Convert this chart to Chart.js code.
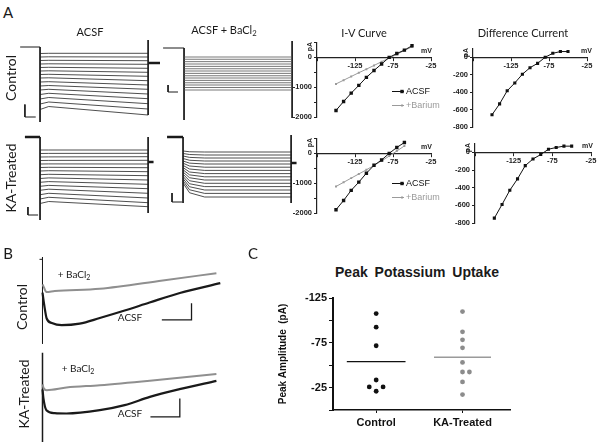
<!DOCTYPE html>
<html lang="en">
<head>
<meta charset="UTF-8">
<meta name="viewport" content="width=device-width, initial-scale=1.0">
<title>Kir currents and potassium uptake</title>
<script src="https://cdn.jsdelivr.net/npm/chart.js"></script>
<style>
  body { margin: 0; background: #fff; }
  #fig { position: relative; width: 600px; height: 444px; overflow: hidden; font-family: Lato, "Open Sans", sans-serif; color: #1a1a1a; }
  #fig canvas { position: absolute; }
  .t { position: absolute; transform: translate(-50%, -50%); white-space: nowrap; line-height: 1; }
  .rot { transform: translate(-50%, -50%) rotate(-90deg); }
  .sub { font-size: 70%; vertical-align: -0.3em; }
  .ttl { font-size: 11px; }
  .big { font-size: 15px; }
  .row { font-size: 14px; }
  .lab { font-size: 10px; }
</style>
</head>
<body>
<div id="fig">
  <!-- panel A traces -->
  <canvas id="aCtlAcsf" width="147" height="90" style="left:18px;top:37px"></canvas>
  <canvas id="aCtlBa" width="147" height="90" style="left:162px;top:38px"></canvas>
  <canvas id="aKaAcsf" width="147" height="100" style="left:18px;top:127px"></canvas>
  <canvas id="aKaBa" width="147" height="100" style="left:161px;top:127px"></canvas>
  <!-- I-V and difference current -->
  <canvas id="ivCtl" width="160" height="90" style="left:285px;top:36px"></canvas>
  <canvas id="ivKa" width="160" height="90" style="left:285px;top:132px"></canvas>
  <canvas id="diffCtl" width="159" height="94" style="left:441px;top:42px"></canvas>
  <canvas id="diffKa" width="157" height="95" style="left:443px;top:137px"></canvas>
  <!-- panel B -->
  <canvas id="bCtl" width="185" height="96" style="left:38px;top:250px"></canvas>
  <canvas id="bKa" width="185" height="94" style="left:38px;top:349px"></canvas>
  <!-- panel C -->
  <canvas id="peak" width="262" height="150" style="left:268px;top:288px"></canvas>

  <div class="t big" style="left:8px;top:12px">A</div>
  <div class="t ttl" style="left:90px;top:31px">ACSF</div>
  <div class="t ttl" style="left:224px;top:31px">ACSF + BaCl<span class="sub">2</span></div>
  <div class="t ttl" style="left:364px;top:32px">I-V Curve</div>
  <div class="t ttl" style="left:523px;top:32px">Difference Current</div>
  <div class="t row rot" style="left:11px;top:78px">Control</div>
  <div class="t row rot" style="left:11px;top:178px">KA-Treated</div>

  <div class="t big" style="left:8px;top:253px">B</div>
  <div class="t big" style="left:253px;top:253px">C</div>
  <div class="t row rot" style="left:22px;top:307px">Control</div>
  <div class="t row rot" style="left:24px;top:394px">KA-Treated</div>
  <div class="t lab" style="left:74px;top:275px">+ BaCl<span class="sub">2</span></div>
  <div class="t lab" style="left:130px;top:317px">ACSF</div>
  <div class="t lab" style="left:78px;top:369px">+ BaCl<span class="sub">2</span></div>
  <div class="t lab" style="left:130px;top:413px">ACSF</div>

  <div class="t" style="left:417px;top:272px;font:bold 14px 'Liberation Sans', Arial, sans-serif;word-spacing:3px">Peak Potassium Uptake</div>
</div>

<script>
  // ---- Panel A: voltage-step current families (ms, pA) ----
  const stepTimes = [0, 40, 500];
  const ctlAcsfOnset = [-260, -400, -540, -680, -820, -960, -1100, -1240, -1400, -1560, -1720, -1900, -2080, -2280, -2500];
  const ctlAcsf40 = [-252, -392, -532, -672, -812, -952, -1092, -1232, -1388, -1540, -1692, -1852, -2020, -2200, -2380];
  const ctlAcsfEnd = [-252, -400, -548, -692, -852, -1012, -1172, -1348, -1520, -1692, -1880, -2068, -2268, -2480, -2720];
  const ctlBaLevel = [-360, -450, -545, -640, -735, -830, -920, -1015, -1110, -1200, -1295, -1390, -1480, -1580, -1680];
  const kaAcsfOnset = [-520, -660, -800, -940, -1080, -1220, -1360, -1508, -1660, -1812, -1972, -2132, -2308, -2480, -2660];
  const kaAcsf40 = [-520, -656, -796, -936, -1076, -1212, -1348, -1492, -1636, -1784, -1936, -2088, -2252, -2412, -2580];
  const kaAcsfEnd = [-520, -652, -788, -932, -1080, -1228, -1388, -1548, -1720, -1892, -2068, -2252, -2440, -2628, -2788];
  const kaBaTimes = [0, 30, 100, 500];
  const kaBaOnset = [-560, -660, -760, -860, -960, -1048, -1136, -1224, -1312, -1400, -1488, -1576, -1664, -1752, -1840];
  const kaBa30 = [-590, -700, -815, -930, -1045, -1160, -1280, -1400, -1515, -1630, -1750, -1870, -1990, -2110, -2230];
  const kaBaEnd = [-600, -720, -840, -960, -1080, -1208, -1336, -1464, -1592, -1720, -1852, -1984, -2120, -2256, -2400];

  // holding level, transients, tail marks and scale bars ([ms, pA] pairs)
  const ctlAcsfMarks = [[[-92, 0], [0, 0]], [[0, 0], [0, -3000]], [[500, 280], [500, -2720]]];
  const ctlAcsfTail = [[500, -640], [555, -640]];
  const ctlAcsfBar = [[-70, -2300], [-70, -2800], [-20, -2800]];
  const ctlBaMarks = [[[-97, 0], [0, 0]], [[0, 0], [0, -2880]], [[500, 280], [500, -2800]]];
  const ctlBaBar = [[-74, -1480], [-74, -1760], [-28, -1760]];
  const kaAcsfMarks = [[[0, 0], [0, -3320]], [[500, 0], [500, -3040]]];
  const kaAcsfHold = [[-70, 0], [0, 0]];
  const kaAcsfTail = [[500, -1000], [525, -1000]];
  const kaAcsfBar = [[-56, -2800], [-56, -3120], [-9, -3120]];
  const kaBaMarks = [[[0, 0], [0, -2640]], [[500, 80], [500, -2640]]];
  const kaBaHold = [[-74, 0], [0, 0]];
  const kaBaTail = [[500, -1040], [525, -1040]];
  const kaBaBar = [[-51, -2240], [-51, -2600], [-5, -2600]];

  // ---- I-V curves and difference current (mV, pA) ----
  const ivVoltsCtl = [-150, -140, -130, -120, -110, -100, -90, -80, -70, -60, -50];
  const ivCtlAcsf = [-1780, -1480, -1200, -940, -670, -440, -220, 0, 130, 245, 390];
  const ivCtlBa = [-890, -765, -640, -515, -395, -270, -145, -20, 105, 230, 355];
  const ivVoltsKa = [-150, -140, -130, -120, -110, -100, -90, -80, -70, -60];
  const ivKaAcsf = [-1890, -1580, -1240, -965, -665, -400, -220, 0, 200, 365];
  const ivKaBa = [-1110, -970, -830, -690, -550, -405, -250, -90, 80, 250];
  const diffVolts = [-150, -140, -130, -120, -110, -100, -90, -80, -70, -60, -50];
  const diffCtl = [-660, -535, -385, -295, -195, -120, -70, 0, 45, 65, 65];
  const diffKa = [-745, -590, -430, -300, -150, -75, -25, 35, 55, 70, 70];
  const voltTicks = [-175, -125, -75, -25];
  const ivCurrentTicks = [-2000, -1500, -1000, -500, 0, 500];
  const diffCurrentTicks = [-800, -600, -400, -200, 0];

  // ---- Panel B: single traces (ms, pA) ----
  const bCtlAcsfT = [0, 6, 14, 31, 64, 124, 191, 274, 357, 458, 593];
  const bCtlAcsfI = [-200, -277, -355, -382, -395, -386, -352, -307, -259, -202, -143];
  const bCtlBaT = [0, 4, 13, 41, 191, 401, 580];
  const bCtlBaI = [-150, -165, -196, -190, -177, -127, -83];
  const bKaAcsfT = [0, 3, 13, 41, 80, 191, 274, 358, 457, 580];
  const bKaAcsfI = [-200, -253, -325, -343, -345, -325, -295, -245, -199, -149];
  const bKaBaT = [0, 4, 14, 80, 191, 358, 580];
  const bKaBaI = [-170, -193, -205, -189, -175, -148, -108];
  const bCtlMarks = [[[0, 14], [0, -506]], [[-10, 0], [0, 0]]];
  const bCtlBar = [[398, -363], [497, -363], [497, -263]];
  const bKaMarks = [[[0, 20], [0, -516]], [[-8, 0], [-5, 0]]];
  const bKaBar = [[360, -365], [458, -365], [458, -255]];

  // ---- Panel C: peak uptake (pA) ----
  const groups = ['Control', 'KA-Treated'];
  const controlPeak = [-107.6, -92.4, -71.7, -33.5, -25.7, -25.7, -20.9];
  const controlJitter = [0, 0, 0, 0, -0.08, 0.08, 0];
  const kaPeak = [-109.8, -87.2, -78.3, -69.4, -53.1, -42.4, -42.4, -31.3, -17.2];
  const kaJitter = [0, 0, 0, 0, 0, 0, 0.08, 0, 0];
  const peakTicks = [-125, -100, -75, -50, -25, 0];

  Chart.defaults.font.family = '"Liberation Sans", Arial, sans-serif';
  Chart.defaults.color = '#1a1a1a';

  const INK = '#1a1a1a';
  const GREY = '#8f8f8f';

  function seg(pairs, width, color) {
    return {
      data: pairs.map(p => ({x: p[0], y: p[1]})),
      borderColor: color || INK, borderWidth: width || 1, pointRadius: 0
    };
  }

  function family(times, levels, color, width) {
    return levels[0].map((_, i) => ({
      data: times.map((t, k) => ({x: t, y: levels[k][i]})),
      borderColor: color, borderWidth: width, pointRadius: 0
    }));
  }

  function curve(times, values, color, width) {
    return {
      data: times.map((t, i) => ({x: t, y: values[i]})),
      borderColor: color, borderWidth: width, pointRadius: 0,
      cubicInterpolationMode: 'monotone'
    };
  }

  function traceChart(id, xr, yr, datasets) {
    new Chart(document.getElementById(id), {
      type: 'line',
      data: {datasets},
      options: {
        responsive: false, animation: false,
        layout: {padding: 0},
        plugins: {legend: {display: false}, tooltip: {enabled: false}},
        scales: {
          x: {type: 'linear', display: false, min: xr[0], max: xr[1]},
          y: {type: 'linear', display: false, min: yr[0], max: yr[1]}
        }
      }
    });
  }

  const stepX = [-102, 578];

  traceChart('aCtlAcsf', stepX, [-3200, 400], [
    ...family(stepTimes, [ctlAcsfOnset, ctlAcsf40, ctlAcsfEnd], '#222', 0.8),
    ...ctlAcsfMarks.map(m => seg(m, 1)),
    seg(ctlAcsfTail, 2.5), seg(ctlAcsfBar, 1)
  ]);
  traceChart('aCtlBa', stepX, [-3200, 400], [
    ...family([0, 500], [ctlBaLevel, ctlBaLevel], '#555', 0.8),
    ...ctlBaMarks.map(m => seg(m, 1)),
    seg(ctlBaBar, 1)
  ]);
  traceChart('aKaAcsf', stepX, [-3600, 400], [
    ...family(stepTimes, [kaAcsfOnset, kaAcsf40, kaAcsfEnd], '#222', 0.8),
    ...kaAcsfMarks.map(m => seg(m, 1)),
    seg(kaAcsfHold, 2.5), seg(kaAcsfTail, 2.5), seg(kaAcsfBar, 1)
  ]);
  traceChart('aKaBa', stepX, [-3600, 400], [
    ...family(kaBaTimes, [kaBaOnset, kaBa30, kaBaEnd, kaBaEnd], '#222', 0.8),
    ...kaBaMarks.map(m => seg(m, 1)),
    seg(kaBaHold, 2.5), seg(kaBaTail, 2.5), seg(kaBaBar, 1)
  ]);

  traceChart('bCtl', [-15, 602], [-520, 56], [
    curve(bCtlBaT, bCtlBaI, GREY, 2),
    curve(bCtlAcsfT, bCtlAcsfI, INK, 2.2),
    ...bCtlMarks.map(m => seg(m, 1)),
    seg(bCtlBar, 1.3)
  ]);
  traceChart('bKa', [-15, 602], [-522, 42], [
    curve(bKaBaT, bKaBaI, GREY, 2),
    curve(bKaAcsfT, bKaAcsfI, INK, 2.2),
    ...bKaMarks.map(m => seg(m, 1.5)),
    seg(bKaBar, 1.3)
  ]);

  // units and inline legend for the I-V style plots
  const ivDecor = {
    id: 'ivDecor',
    afterDraw(chart, args, opts) {
      const {ctx, chartArea, scales} = chart;
      const y0 = scales.y.getPixelForValue(0);
      ctx.save();
      ctx.fillStyle = '#222';
      ctx.font = 'bold 7px "Liberation Sans", Arial, sans-serif';
      ctx.textAlign = 'right';
      ctx.textBaseline = 'bottom';
      ctx.fillText('mV', chartArea.right + opts.mvDx, y0 - 3);
      ctx.translate(chartArea.left - 7, chartArea.top + 4);
      ctx.rotate(-Math.PI / 2);
      ctx.textAlign = 'center';
      ctx.textBaseline = 'middle';
      ctx.fillText('pA', 0, 0);
      ctx.restore();
      if (!opts.legend) return;
      ctx.save();
      ctx.font = '9px "Liberation Sans", Arial, sans-serif';
      ctx.textBaseline = 'middle';
      chart.data.datasets.forEach((ds, i) => {
        const x = chartArea.left + opts.legend.x;
        const y = chartArea.top + opts.legend.y + i * opts.legend.gap;
        ctx.strokeStyle = ds.borderColor;
        ctx.lineWidth = 1;
        ctx.beginPath();
        ctx.moveTo(x, y);
        ctx.lineTo(x + 12, y);
        ctx.stroke();
        const s = ds.pointRadius * Math.SQRT2;
        ctx.fillStyle = ds.borderColor;
        ctx.fillRect(x + 10 - s / 2, y - s / 2, s, s);
        ctx.fillText(ds.label, x + 14, y + 0.5);
      });
      ctx.restore();
    }
  };

  function ivChart(id, pad, yMin, yMax, yTicks, labelEvery, datasets, decor) {
    new Chart(document.getElementById(id), {
      type: 'line',
      data: {datasets},
      plugins: [ivDecor],
      options: {
        responsive: false, animation: false,
        layout: {padding: pad},
        plugins: {legend: {display: false}, tooltip: {enabled: false}, ivDecor: decor},
        scales: {
          x: {
            type: 'linear', min: -175, max: -25, position: {y: 0},
            afterBuildTicks: s => { s.ticks = voltTicks.map(v => ({value: v})); },
            ticks: {
              autoSkip: false, maxRotation: 0, padding: 1,
              font: {size: 7.5, weight: 'bold'}, color: '#222',
              callback: v => (v === -175 ? '' : String(v))
            },
            grid: {drawOnChartArea: false, tickLength: 3, color: '#222'},
            border: {color: '#222', width: 1.2}
          },
          y: {
            type: 'linear', min: yMin, max: yMax,
            afterFit: s => { s.width = 32; },
            afterBuildTicks: s => { s.ticks = yTicks.map(v => ({value: v})); },
            ticks: {
              autoSkip: false, padding: 2,
              font: {size: 7.5, weight: 'bold'}, color: '#222',
              callback: v => (v % labelEvery === 0 && v <= 0 ? String(v) : '')
            },
            grid: {drawOnChartArea: false, tickLength: 3, color: '#222'},
            border: {color: '#222', width: 1.2}
          }
        }
      }
    });
  }

  function ivSet(label, volts, values, color, radius) {
    return {
      label,
      data: volts.map((v, i) => ({x: v, y: values[i]})),
      borderColor: color, backgroundColor: color, borderWidth: 1,
      pointStyle: 'rect', pointRadius: radius, pointBorderWidth: 0
    };
  }

  ivChart('ivCtl', {top: 6, right: 14, bottom: 9}, -2000, 500, ivCurrentTicks, 1000, [
    ivSet('ACSF', ivVoltsCtl, ivCtlAcsf, '#111', 2.4),
    ivSet('+Barium', ivVoltsCtl, ivCtlBa, '#9a9a9a', 1.4)
  ], {mvDx: 1, legend: {x: 75, y: 49, gap: 14}});
  ivChart('ivKa', {top: 6, right: 14, bottom: 9}, -2000, 500, ivCurrentTicks, 1000, [
    ivSet('ACSF', ivVoltsKa, ivKaAcsf, '#111', 2.4),
    ivSet('+Barium', ivVoltsKa, ivKaBa, '#9a9a9a', 1.4)
  ], {mvDx: 1, legend: {x: 75, y: 45, gap: 14}});
  ivChart('diffCtl', {top: 6, right: 13, bottom: 9}, -800, 100, diffCurrentTicks, 200, [
    ivSet('Difference', diffVolts, diffCtl, '#111', 2.2)
  ], {mvDx: 5});
  ivChart('diffKa', {top: 6, right: 9, bottom: 9}, -800, 100, diffCurrentTicks, 200, [
    ivSet('Difference', diffVolts, diffKa, '#111', 2.2)
  ], {mvDx: 2});

  // ---- Panel C ----
  const mean = a => a.reduce((s, v) => s + v, 0) / a.length;
  new Chart(document.getElementById('peak'), {
    type: 'scatter',
    data: {
      datasets: [
        {data: controlPeak.map((v, i) => ({x: controlJitter[i], y: v})),
         backgroundColor: '#111', borderWidth: 0, pointRadius: 2.4},
        {data: kaPeak.map((v, i) => ({x: 1 + kaJitter[i], y: v})),
         backgroundColor: '#8c8c8c', borderWidth: 0, pointRadius: 2.4},
        {type: 'line', data: [{x: -0.34, y: mean(controlPeak)}, {x: 0.34, y: mean(controlPeak)}],
         borderColor: '#111', borderWidth: 1.3, pointRadius: 0},
        {type: 'line', data: [{x: 0.67, y: mean(kaPeak)}, {x: 1.33, y: mean(kaPeak)}],
         borderColor: '#9a9a9a', borderWidth: 1.5, pointRadius: 0}
      ]
    },
    options: {
      responsive: false, animation: false,
      layout: {padding: {top: 10, right: 20}},
      plugins: {legend: {display: false}, tooltip: {enabled: false}},
      scales: {
        x: {
          type: 'linear', min: -0.5, max: 1.55,
          afterFit: s => { s.height = 28; },
          afterBuildTicks: s => { s.ticks = [0, 1].map(v => ({value: v})); },
          ticks: {autoSkip: false, maxRotation: 0, padding: 3, font: {size: 11, weight: 'bold'},
                  color: '#111', callback: v => groups[v]},
          grid: {drawOnChartArea: false, tickLength: 3, color: '#111'},
          border: {color: '#111', width: 1.5}
        },
        y: {
          type: 'linear', reverse: true, min: -125, max: 0,
          afterFit: s => { s.width = 65; },
          afterBuildTicks: s => { s.ticks = peakTicks.map(v => ({value: v})); },
          ticks: {autoSkip: false, padding: 2, font: {size: 11, weight: 'bold'}, color: '#111',
                  callback: v => ([-125, -75, -25].includes(v) ? String(v) : '')},
          grid: {drawOnChartArea: false, tickLength: 4, color: '#111'},
          border: {color: '#111', width: 2},
          title: {display: true, text: 'Peak Amplitude  (pA)', font: {size: 10, weight: 'bold'},
                  color: '#111', padding: {top: 9, bottom: 0}}
        }
      }
    }
  });
</script>
</body>
</html>
